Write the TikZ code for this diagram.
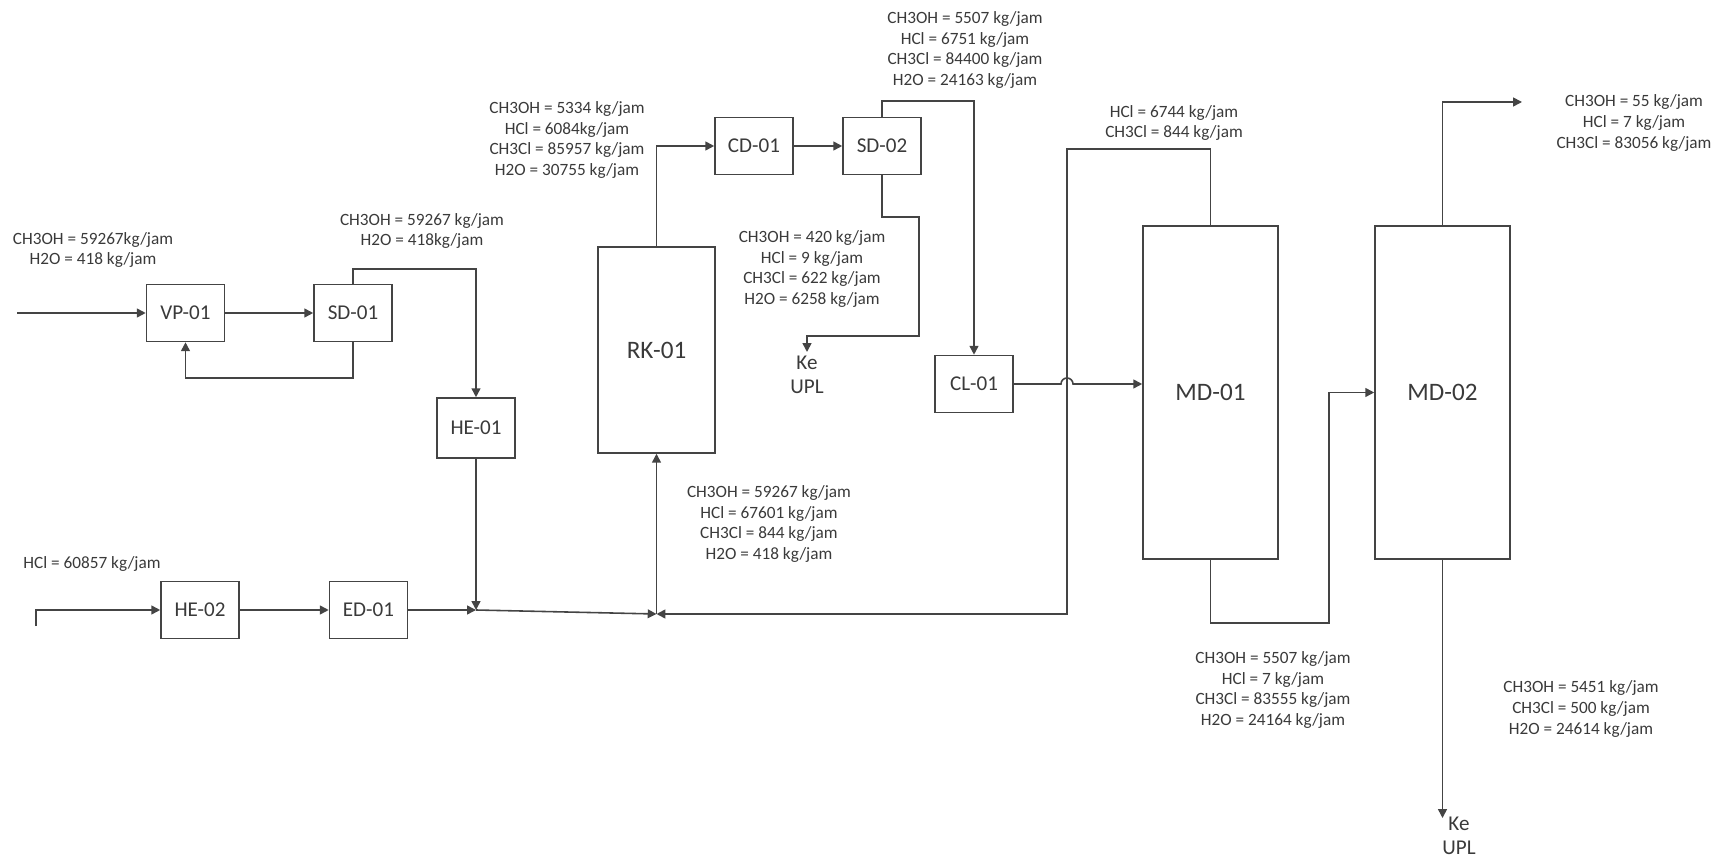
\documentclass[tikz,border=0pt]{standalone}
\usepackage{fontspec}
\setmainfont{Carlito}
\usetikzlibrary{arrows.meta,calc}
\definecolor{ink}{HTML}{3A3A3A}
\definecolor{pipe}{HTML}{444444}

\begin{document}
\begin{tikzpicture}[x=0.02cm, y=-0.02cm, >={Triangle[length=5pt, width=5pt]},
  n/.style={draw=pipe, line width=0.9pt, minimum width=15.6mm, minimum height=11.4mm, inner sep=0pt, font=\fontsize{12}{14}\selectfont, text=ink},
  col/.style={n, minimum width=27mm, minimum height=66.6mm, font=\fontsize{14.3}{17}\selectfont},
  e/.style={->, line width=0.9pt, draw=pipe},
  lab/.style={align=center, font=\fontsize{9.8}{11.7}\selectfont, text=ink, inner sep=0pt},
  upl/.style={align=center, font=\fontsize{12}{14}\selectfont, text=ink, inner sep=0pt}
]
\useasboundingbox (0,0) rectangle (1721,864);
\node[n] (vp01) at (185.5,313) {VP-01};
\node[n] (sd01) at (353,313) {SD-01};
\node[n, minimum height=12mm] (he01) at (476,428) {HE-01};
\node[n] (he02) at (200,610) {HE-02};
\node[n] (ed01) at (368.5,610) {ED-01};
\node[n, minimum width=23.4mm, minimum height=41.2mm, font=\fontsize{14.3}{17}\selectfont] (rk01) at (656.5,350) {RK-01};
\node[n] (cd01) at (754,146) {CD-01};
\node[n] (sd02) at (882,146) {SD-02};
\node[n] (cl01) at (974,384) {CL-01};
\node[col] (md01) at (1210.5,392.5) {MD-01};
\node[col] (md02) at (1442.5,392.5) {MD-02};
\coordinate (feed)  at (17,313);
\coordinate (hclin) at (36,626);
\coordinate (mix1)  at (476,610);
\coordinate (mix2)  at (656.5,614);
\coordinate (upl1)  at (807,352);
\coordinate (hop)   at (1067,384);
\coordinate (top2)  at (1522,102);
\coordinate (bot2)  at (1442.5,818);
\draw[e] (feed) -- (vp01);
\draw[e] (vp01) -- (sd01);
\draw[e] (sd01.south) -- ++(0,35.5) -| (vp01.south);
\draw[e] (sd01.north) -- ++(0,-14.5) -| (he01.north);
\draw[e] (he01.south) -- (mix1);
\draw[e] (hclin) |- (he02.west);
\draw[e] (he02) -- (ed01);
\draw[e] (ed01.east) -- (mix1);
\draw[e] (mix1) -- (mix2);
\draw[e] (md01.north) -- ++(0,-76) -| (hop |- mix2) -- (mix2);
\draw[e] (mix2) -- (rk01.south);
\draw[e] (rk01.north) |- (cd01.west);
\draw[e] (cd01) -- (sd02);
\draw[e] (sd02.north) -- ++(0,-15.5) -| (cl01.north);
\draw[e] (sd02.south) -- ++(0,41.5) -- ++(37,0) -- ++(0,119) -| (upl1);
\draw[e] (cl01.east) -- ([xshift=-1.2mm]hop) arc[start angle=180, end angle=0, radius=1.2mm] -- (md01.west |- hop);
\draw[e] (md01.south) -- ++(0,63) -| ($(md02.west)+(-45,0)$) -- (md02.west);
\draw[e] (md02.north) |- (top2);
\draw[e] (md02.south) -- (bot2);
\node[lab] (lfeed) at (93,250) {CH3OH = 59267kg/jam\\H2O = 418 kg/jam};
\node[lab] (lsd01) at (422,231) {CH3OH = 59267 kg/jam\\H2O = 418kg/jam};
\node[lab] (lhcl) at (92,564) {HCl = 60857 kg/jam};
\node[lab] (lrk01) at (567,140) {CH3OH = 5334 kg/jam\\HCl = 6084kg/jam\\CH3Cl = 85957 kg/jam\\H2O = 30755 kg/jam};
\node[lab] (lsd02a) at (965,50) {CH3OH = 5507 kg/jam\\HCl = 6751 kg/jam\\CH3Cl = 84400 kg/jam\\H2O = 24163 kg/jam};
\node[lab] (lsd02b) at (812,269) {CH3OH = 420 kg/jam\\HCl = 9 kg/jam\\CH3Cl = 622 kg/jam\\H2O = 6258 kg/jam};
\node[lab] (lmix) at (769,524) {CH3OH = 59267 kg/jam\\HCl = 67601 kg/jam\\CH3Cl = 844 kg/jam\\H2O = 418 kg/jam};
\node[lab] (lmd01a) at (1174,123) {HCl = 6744 kg/jam\\CH3Cl = 844 kg/jam};
\node[lab] (lmd01b) at (1273,690) {CH3OH = 5507 kg/jam\\HCl = 7 kg/jam\\CH3Cl = 83555 kg/jam\\H2O = 24164 kg/jam};
\node[lab] (lmd02a) at (1634,123) {CH3OH = 55 kg/jam\\HCl = 7 kg/jam\\CH3Cl = 83056 kg/jam};
\node[lab] (lmd02b) at (1581,709) {CH3OH = 5451 kg/jam\\CH3Cl = 500 kg/jam\\H2O = 24614 kg/jam};
\node[upl] (ke1) at (807,375) {Ke\\UPL};
\node[upl] (ke2) at (1459,836) {Ke\\UPL};
\end{tikzpicture}
\end{document}
